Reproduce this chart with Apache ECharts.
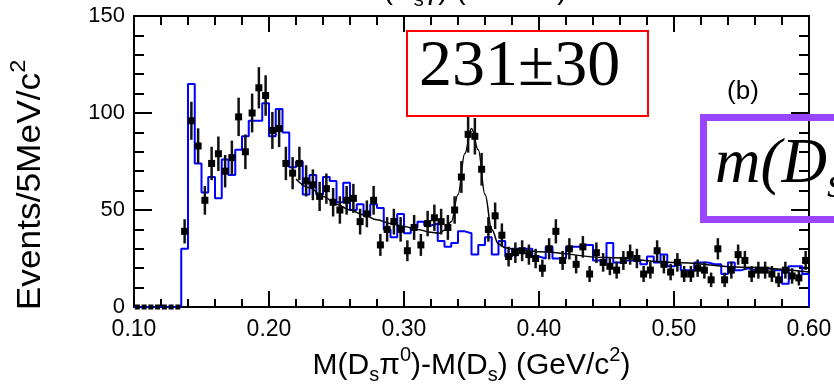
<!DOCTYPE html>
<html>
<head>
<meta charset="utf-8">
<script src="https://cdn.jsdelivr.net/npm/echarts@6/dist/echarts.min.js"></script>
<style>
  html, body { margin: 0; padding: 0; background: #fff; }
  #chart { width: 834px; height: 387px; }
</style>
</head>
<body>
<div id="chart"></div>
<script>
// 5 MeV bins from 0.10 to 0.60 GeV/c2
const binLow = 0.10;
const binWidth = 0.005;

// black points (events per bin)
const dataCounts = [
  0, 0, 0, 0, 0, 0, 0, 39, 96, 83,
  55, 74, 79, 70, 77, 98, 80, 100, 113, 109,
  91, 92, 74, 69, 74, 65, 63, 57, 61, 54,
  50, 55, 56, 44, 48, 55, 32, 40, 44, 40,
  29, 41, 32, 43, 46, 44, 41, 50, 67, 89,
  88, 71, 40, 47, 37, 26, 28, 29, 27, 25,
  20, 30, 39, 24, 30, 22, 31, 17, 28, 23,
  21, 19, 24, 27, 25, 17, 19, 29, 22, 18,
  23, 17, 17, 20, 19, 14, 30, 14, 19, 27,
  24, 17, 19, 19, 17, 14, 19, 16, 15, 24
];

// blue histogram
const mcCounts = [
  0, 0, 0, 0, 0, 0, 0, 30, 115, 74,
  59, 67, 56, 76, 68, 81, 88, 96, 96, 105,
  88, 102, 90, 72, 75, 58, 68, 58, 67, 65,
  54, 64, 50, 53, 47, 53, 51, 40, 36, 48,
  38, 41, 44, 42, 43, 34, 31, 33, 39, 38,
  27, 32, 36, 27, 34, 26, 30, 30, 30, 26,
  25, 31, 25, 25, 31, 31, 32, 32, 24, 23,
  33, 23, 24, 24, 24, 22, 26, 23, 27, 21,
  22, 19, 19, 23, 23, 22, 22, 17, 23, 19,
  20, 19, 20, 20, 19, 19, 12, 21, 21, 17
];

// fit curve
const fitX = [0.220, 0.230, 0.240, 0.250, 0.260, 0.270, 0.280, 0.290, 0.300, 0.310,
  0.320, 0.326, 0.330, 0.335, 0.340, 0.345, 0.350, 0.355, 0.360, 0.365,
  0.370, 0.375, 0.380, 0.400, 0.450, 0.500, 0.550, 0.600];
const fitY = [66, 61.5, 57, 53, 50, 47.5, 45, 43, 41.5, 40,
  38.5, 38, 39.5, 44, 58, 79, 92, 81, 58, 40,
  32.5, 30.5, 30, 28.5, 25.5, 23, 20.5, 18];

const FONT = 'Liberation Sans, Arial, sans-serif';
const SERIF = 'Liberation Serif, Times New Roman, serif';

// step line along bin edges
const histLine = mcCounts.map((v, i) => [binLow + i * binWidth, v]);
histLine.push([binLow + mcCounts.length * binWidth, mcCounts[mcCounts.length - 1]]);
histLine.push([binLow + mcCounts.length * binWidth, 0]);

const points = dataCounts.map((v, i) => [binLow + (i + 0.5) * binWidth, v]);

const chart = echarts.init(document.getElementById('chart'));

const tickStyle = { color: '#000', width: 2 };

chart.setOption({
  animation: false,
  backgroundColor: '#fff',
  grid: { left: 134, right: 25, top: 16, bottom: 80, outerBoundsMode: 'none', containLabel: false },
  xAxis: [{
    type: 'value',
    min: 0.1, max: 0.6, interval: 0.1,
    position: 'bottom',
    axisLine: { onZero: false, lineStyle: { color: '#000', width: 2 } },
    axisTick: { inside: true, length: 16, lineStyle: tickStyle },
    minorTick: { show: true, splitNumber: 5, length: 8, lineStyle: tickStyle },
    splitLine: { show: false },
    axisLabel: {
      color: '#000', fontFamily: FONT, fontSize: 23, margin: 11,
      formatter: v => v.toFixed(2)
    },
    name: '{n|M(D}{s|s}{n|π}{p|0}{n|)-M(D}{s|s}{n|) (GeV/c}{p|2}{n|)}',
    nameLocation: 'middle',
    nameGap: 41,
    nameMoveOverlap: false,
    nameTextStyle: {
      rich: {
        n: { fontFamily: FONT, fontSize: 30, color: '#000', lineHeight: 36 },
        s: { fontFamily: FONT, fontSize: 20, color: '#000', lineHeight: 36, padding: [18, 0, 0, 0] },
        p: { fontFamily: FONT, fontSize: 20, color: '#000', lineHeight: 36, padding: [0, 0, 22, 0] }
      }
    }
  }, {
    type: 'value',
    min: 0.1, max: 0.6, interval: 0.1,
    position: 'top',
    axisLine: { onZero: false, lineStyle: { color: '#000', width: 2 } },
    axisTick: { inside: true, length: 16, lineStyle: tickStyle },
    minorTick: { show: true, splitNumber: 5, length: 9, lineStyle: tickStyle },
    splitLine: { show: false },
    axisLabel: { show: false }
  }],
  yAxis: [{
    type: 'value',
    min: 0, max: 150, interval: 50,
    position: 'left',
    axisLine: { show: true, onZero: false, lineStyle: { color: '#000', width: 2 } },
    axisTick: { inside: true, length: 18, lineStyle: tickStyle },
    minorTick: { show: true, splitNumber: 5, length: 10, lineStyle: tickStyle },
    splitLine: { show: false },
    axisLabel: { color: '#000', fontFamily: FONT, fontSize: 22, margin: 9 }
  }, {
    type: 'value',
    min: 0, max: 150, interval: 50,
    position: 'right',
    axisLine: { show: true, onZero: false, lineStyle: { color: '#000', width: 2 } },
    axisTick: { inside: true, length: 18, lineStyle: tickStyle },
    minorTick: { show: true, splitNumber: 5, length: 10, lineStyle: tickStyle },
    splitLine: { show: false },
    axisLabel: { show: false }
  }],
  series: [
    {
      // blue histogram
      type: 'line',
      xAxisIndex: 0, yAxisIndex: 0,
      step: 'end',
      data: histLine,
      showSymbol: false,
      lineStyle: { color: '#0000ff', width: 2 },
      z: 3
    },
    {
      // fit
      type: 'line',
      xAxisIndex: 0, yAxisIndex: 0,
      data: fitX.map((x, i) => [x, fitY[i]]),
      smooth: 0.4,
      smoothMonotone: 'x',
      showSymbol: false,
      lineStyle: { color: '#000', width: 1.5 },
      z: 4
    },
    {
      // data points with poisson errors
      type: 'custom',
      xAxisIndex: 0, yAxisIndex: 0,
      data: points,
      z: 5,
      renderItem: function (params, api) {
        const x = api.value(0);
        const y = api.value(1);
        const c = api.coord([x, y]);
        const children = [];
        if (y > 0) {
          const e = Math.sqrt(y);
          const top = api.coord([x, y + e]);
          const bot = api.coord([x, y - e]);
          children.push({
            type: 'line',
            shape: { x1: c[0], y1: top[1], x2: c[0], y2: bot[1] },
            style: { stroke: '#111', lineWidth: 2.5 }
          });
        }
        const s = y > 0 ? 7 : 5;
        children.push({
          type: 'rect',
          shape: { x: c[0] - s / 2, y: c[1] - s / 2, width: s, height: s },
          style: { fill: '#000' }
        });
        return { type: 'group', children: children };
      }
    }
  ],
  graphic: [
    {
      // y axis title
      type: 'text',
      x: 31, y: 185,
      rotation: Math.PI / 2,
      scaleX: 1.07,
      z: 50,
      style: {
        text: '{n|Events/5MeV/c}{p|2}',
        align: 'center', verticalAlign: 'middle',
        textAlign: 'center', textVerticalAlign: 'middle',
        rich: {
          n: { fontFamily: FONT, fontSize: 33, fill: '#000', lineHeight: 40 },
          p: { fontFamily: FONT, fontSize: 22, fill: '#000', lineHeight: 40, padding: [0, 0, 24, 0] }
        }
      }
    },
    {
      // label of the panel above, cut off
      type: 'text',
      x: 359, y: -9,
      z: 50,
      style: {
        text: '{n|M(D}{s|s}{n|γ) (GeV/c}{p|2}{n|)}',
        align: 'left', verticalAlign: 'middle',
        textAlign: 'left', textVerticalAlign: 'middle',
        rich: {
          n: { fontFamily: FONT, fontSize: 29, fill: '#000', lineHeight: 36 },
          s: { fontFamily: FONT, fontSize: 20, fill: '#000', lineHeight: 36, padding: [18, 0, 0, 0] },
          p: { fontFamily: FONT, fontSize: 20, fill: '#000', lineHeight: 36, padding: [0, 0, 22, 0] }
        }
      }
    },
    {
      type: 'rect',
      z: 60,
      shape: { x: 407, y: 31, width: 241, height: 85 },
      style: { fill: '#fff', stroke: '#ff0000', lineWidth: 2 }
    },
    {
      type: 'text',
      x: 419, y: 68,
      z: 61,
      style: {
        text: '231±30',
        font: '66px ' + SERIF,
        fill: '#000',
        align: 'left', verticalAlign: 'middle',
        textAlign: 'left', textVerticalAlign: 'middle'
      }
    },
    {
      type: 'text',
      x: 743, y: 92,
      z: 61,
      style: {
        text: '(b)',
        font: '26px ' + FONT,
        fill: '#000',
        align: 'center', verticalAlign: 'middle',
        textAlign: 'center', textVerticalAlign: 'middle'
      }
    },
    {
      type: 'rect',
      z: 60,
      shape: { x: 703.5, y: 117.5, width: 200, height: 102 },
      style: { fill: 'none', stroke: '#9945ff', lineWidth: 7 }
    },
    {
      type: 'text',
      x: 715, y: 165,
      z: 61,
      style: {
        text: '{m|m(D}{s|s}',
        align: 'left', verticalAlign: 'middle',
        textAlign: 'left', textVerticalAlign: 'middle',
        rich: {
          m: { fontFamily: SERIF, fontStyle: 'italic', fontSize: 63, fill: '#000', lineHeight: 70 },
          s: { fontFamily: SERIF, fontStyle: 'italic', fontSize: 44, fill: '#000', lineHeight: 70, padding: [40, 0, 0, 0] }
        }
      }
    }
  ]
});
</script>
</body>
</html>
